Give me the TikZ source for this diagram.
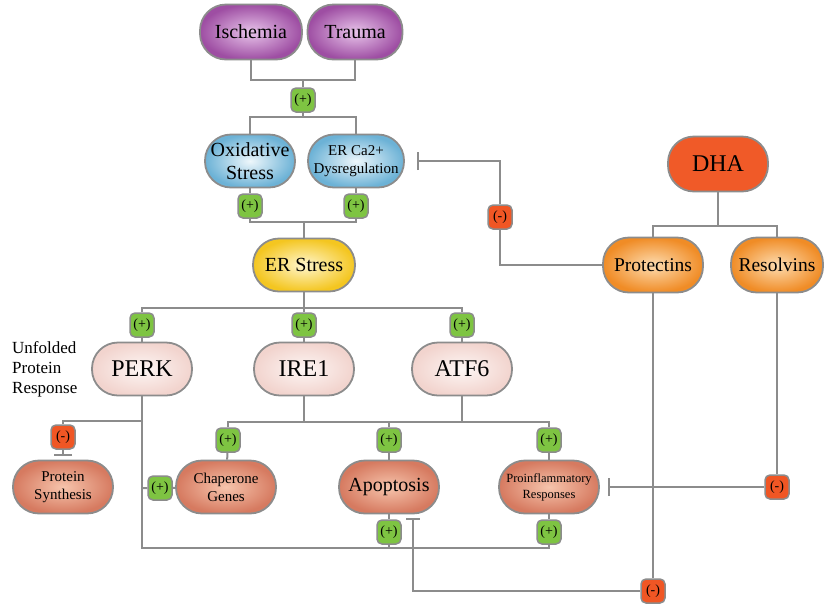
\documentclass[tikz,border=0pt]{standalone}
\usepackage{fontspec}
\setmainfont{Liberation Serif}
\newfontfamily\tnrfont{Liberation Serif}
\usetikzlibrary{arrows.meta}
\definecolor{lnGray}{RGB}{140,140,140}
\definecolor{purpOut}{RGB}{158,78,163}
\definecolor{purpIn}{RGB}{232,196,234}
\definecolor{blueOut}{RGB}{108,178,214}
\definecolor{blueIn}{RGB}{238,247,251}
\definecolor{yelOut}{RGB}{244,198,32}
\definecolor{yelIn}{RGB}{255,246,205}
\definecolor{pinkOut}{RGB}{242,212,206}
\definecolor{pinkIn}{RGB}{253,246,244}
\definecolor{salOut}{RGB}{214,122,96}
\definecolor{salIn}{RGB}{246,196,172}
\definecolor{dhaRed}{RGB}{240,90,40}
\definecolor{orOut}{RGB}{240,140,38}
\definecolor{orIn}{RGB}{253,220,176}
\definecolor{plusGreen}{RGB}{126,196,66}
\definecolor{minusRed}{RGB}{240,86,36}
\newcommand{\fs}[2]{\tnrfont\fontsize{#1}{#2}\selectfont}
\begin{document}
\begin{tikzpicture}[x=1pt, y=-1pt,
      pill/.style={draw=lnGray, line width=1.8pt, rounded corners=26pt, align=center, inner sep=1pt, minimum width=100pt, minimum height=53pt},
      purp/.style={pill, inner color=purpIn, outer color=purpOut, minimum height=55pt, font=\fs{20}{24}},
      blu/.style={pill, inner color=blueIn, outer color=blueOut, font=\fs{20}{23}},
      yel/.style={pill, inner color=yelIn, outer color=yelOut, font=\fs{20}{24}},
      upr/.style={pill, inner color=pinkIn, outer color=pinkOut, font=\fs{24}{28}},
      sal/.style={pill, inner color=salIn, outer color=salOut, font=\fs{15}{18}},
      orng/.style={pill, inner color=orIn, outer color=orOut, minimum height=55pt, font=\fs{19.5}{23}},
      badge/.style={draw=lnGray, line width=1.5pt, rounded corners=5pt, minimum width=24pt, minimum height=24pt, inner sep=0pt, font=\fs{14}{16}},
      plus/.style={badge, fill=plusGreen},
      minus/.style={badge, fill=minusRed},
      link/.style={draw=lnGray, line width=2pt},
      inh/.style={link, -{Bar[width=#1, line width=2pt]}},
      inh/.default=18pt]
    \useasboundingbox (0,0) rectangle (824,606);
    \node[purp, minimum width=102pt] (isch) at (251,32) {Ischemia};
    \node[purp, minimum width=95pt] (trauma) at (355,32) {Trauma};
    \node[plus] (b1) at (303,100) {(+)};
    \node[blu, minimum width=90pt] (oxi) at (250,161) {Oxidative\\Stress};
    \node[blu, minimum width=96pt, font=\fs{15}{18}] (erca) at (356,161) {ER Ca2+\\Dysregulation};
    \node[plus] (b2) at (250,206) {(+)};
    \node[plus] (b3) at (356,206) {(+)};
    \node[yel, minimum width=102pt] (ers) at (304,265) {ER Stress};
    \node[plus] (bperk) at (142,325) {(+)};
    \node[plus] (bire) at (304,325) {(+)};
    \node[plus] (batf) at (462,325) {(+)};
    \node[upr] (perk) at (142,369) {PERK};
    \node[upr] (ire) at (304,369) {IRE1};
    \node[upr] (atf) at (462,369) {ATF6};
    \node[align=left, anchor=north west, inner sep=0pt, font=\fs{17}{20}] (uprtxt) at (12,341) {Unfolded\\Protein\\Response};
    \node[minus] (bps) at (63,437) {(-)};
    \node[sal] (psyn) at (63,487) {Protein\\Synthesis};
    \node[plus] (bchl) at (160,488) {(+)};
    \node[sal] (chap) at (226,487) {Chaperone\\Genes};
    \node[plus] (bch) at (228,440) {(+)};
    \node[sal, font=\fs{20}{24}] (apo) at (389,487) {Apoptosis};
    \node[plus] (bapo1) at (389,440) {(+)};
    \node[plus] (bapo2) at (389,532) {(+)};
    \node[sal, font=\fs{12.5}{16}] (proinf) at (549,487) {Proinflammatory\\Responses};
    \node[plus] (bpro1) at (549,440) {(+)};
    \node[plus] (bpro2) at (549,532) {(+)};
    \node[pill, fill=dhaRed, minimum height=55pt, font=\fs{24}{28}] (dha) at (718,164) {DHA};
    \node[orng] (prot) at (653,265) {Protectins};
    \node[orng, minimum width=92pt] (reso) at (777,265) {Resolvins};
    \node[minus] (bm1) at (500,217) {(-)};
    \node[minus] (bm2) at (777,487) {(-)};
    \node[minus] (bm3) at (653,591) {(-)};
    \coordinate (j1) at (303,80);
    \coordinate (j2) at (303,117);
    \coordinate (j3) at (304,222);
    \coordinate (j4) at (304,308);
    \coordinate (jps) at (143,421);
    \coordinate (jR) at (549,422);
    \coordinate (jB) at (549,548);
    \coordinate (jD) at (718,226);
    \draw[link] (isch.south) |- (j1) -| (trauma.south);
    \draw[link] (j1) -- (b1) -- (j2);
    \draw[link] (oxi.north) |- (j2) -| (erca.north);
    \foreach \n in {oxi,erca} \draw[link] (\n.south) -- (\n.south |- b2.north);
    \draw[link] (b2) |- (j3) -| (b3);
    \draw[link] (j3) -- (ers);
    \draw[link] (ers) -- (j4);
    \draw[link] (bperk) |- (j4) -| (batf);
    \draw[link] (j4) -- (bire);
    \foreach \n in {perk,ire,atf} \draw[link] (b\n) -- (\n);
    \draw[link] (perk.south) |- (jB) -- (bpro2);
    \draw[link] (jps) -| (bps);
    \draw[inh, shorten >=4pt] (bps) -- (psyn);
    \draw[link] (perk.south |- bchl) -- (bchl) -- (chap);
    \draw[link] (bch) |- (jR) -- (bpro1);
    \foreach \n in {ire,atf} \draw[link] (\n.south) -- (\n.south |- jR);
    \draw[link] (bapo1) -- (bapo1 |- jR);
    \draw[link] (bch) -- (chap);
    \draw[link] (bapo1) -- (apo);
    \draw[link] (bpro1) -- (proinf);
    \draw[link] (apo) -- (bapo2) -- (bapo2 |- jB);
    \draw[link] (proinf) -- (bpro2);
    \draw[link] (dha) -- (jD);
    \draw[link] (prot.north) |- (jD) -| (reso.north);
    \draw[link] (prot.west) -| (bm1);
    \draw[inh, shorten >=12pt] (bm1) |- (erca.east);
    \draw[link] (prot) -- (bm3);
    \draw[inh=14pt, shorten >=4pt] (bm3) -| ([xshift=24pt]apo.south);
    \draw[link] (reso) -- (bm2);
    \draw[inh, shorten >=8pt] (bm2) -- (proinf);
  \end{tikzpicture}
\end{document}
